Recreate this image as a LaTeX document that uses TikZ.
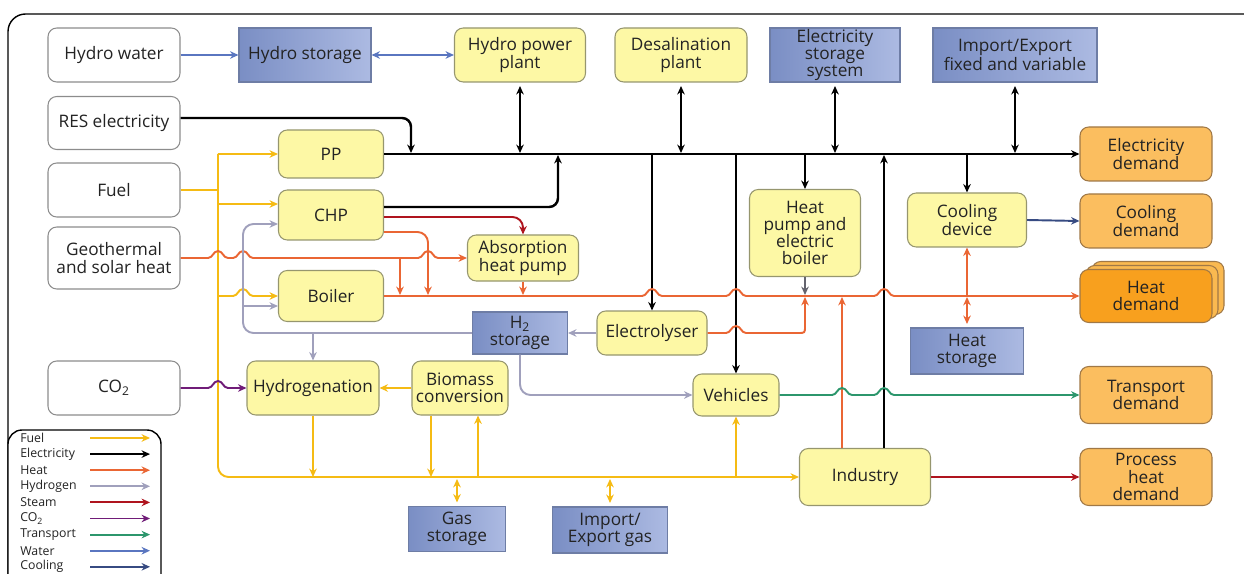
\documentclass[tikz,border=0pt]{standalone}
\usepackage{fontspec}
\setmainfont{Open Sans}
\usepackage{xcolor}
\usetikzlibrary{positioning,arrows.meta}

\definecolor{fuelc}{RGB}{245,187,20}
\definecolor{heatc}{RGB}{234,102,52}
\definecolor{hydroc}{RGB}{160,160,188}
\definecolor{steamc}{RGB}{175,20,30}
\definecolor{co2c}{RGB}{112,28,120}
\definecolor{transc}{RGB}{44,150,108}
\definecolor{waterc}{RGB}{90,118,192}
\definecolor{coolc}{RGB}{55,75,130}
\definecolor{hpgray}{RGB}{100,100,110}
\definecolor{txt}{RGB}{35,35,35}
\definecolor{srcline}{RGB}{140,140,140}
\definecolor{procfill}{RGB}{253,248,165}
\definecolor{procline}{RGB}{150,150,110}
\definecolor{storeA}{RGB}{122,142,196}
\definecolor{storeB}{RGB}{172,186,226}
\definecolor{storeline}{RGB}{110,125,165}
\definecolor{demfill}{RGB}{251,190,95}
\definecolor{demline}{RGB}{160,120,70}
\definecolor{heatfill}{RGB}{248,160,30}
\definecolor{heatback}{RGB}{250,185,80}

\tikzset{
  box/.style 2 args={minimum width=#1*0.02cm, minimum height=#2*0.02cm,
    inner sep=0pt, align=center, text=txt, font=\fontsize{9.8}{9.8}\selectfont},
  src/.style={draw=srcline, fill=white, rounded corners=5pt, line width=0.6pt},
  proc/.style={draw=procline, fill=procfill, rounded corners=5pt, line width=0.6pt},
  store/.style={draw=storeline, left color=storeA, right color=storeB, line width=0.6pt},
  dem/.style={draw=demline, fill=demfill, rounded corners=5pt, line width=0.6pt},
  flow/.style={line width=1.1pt, -{Stealth[length=4.8pt,width=4.3pt]}},
  both/.style={{Stealth[length=4.8pt,width=4.3pt]}-{Stealth[length=4.8pt,width=4.3pt]}},
  fuel/.style={flow, draw=fuelc},
  elec/.style={flow, draw=black, line width=1.4pt},
  heat/.style={flow, draw=heatc},
  hydro/.style={flow, draw=hydroc},
  steam/.style={flow, draw=steamc},
  co2/.style={flow, draw=co2c},
  trans/.style={flow, draw=transc},
  water/.style={flow, draw=waterc},
  cooling/.style={flow, draw=coolc},
  hop/.style={insert path={to[out=0,in=180] ++(10,-7) to[out=0,in=180] ++(10,7)}},
}

\begin{document}
\begin{tikzpicture}[x=0.02cm, y=-0.02cm]
    \useasboundingbox (0,0) rectangle (1244,574);
    \clip (0,0) rectangle (1244,574);

    % Frame
    \draw[line width=0.8pt, rounded corners=10pt] (8,14) rectangle (1280,610);

    % Inputs
    \node[src, box={132}{54}] (hwin)  at (114,55)  {Hydro water};
    \node[src, box={132}{53}] (resin) at (114,123) {RES electricity};
    \node[src, box={132}{54}] (fuelin) at (114,190) {Fuel};
    \node[src, box={132}{62}] (geoin) at (114,258) {Geothermal\\and solar heat};
    \node[src, box={132}{54}] (co2in) at (114,388) {CO\textsubscript{2}};

    % Storages
    \node[store, box={132}{54}] (hs)     at (305,55)   {Hydro storage};
    \node[store, box={130}{54}] (ess)    at (835,55)   {Electricity\\storage\\system};
    \node[store, box={164}{54}] (impel)  at (1015,55)  {Import/Export\\fixed and variable};
    \node[store, box={95}{42}]  (h2)     at (520,333)  {H\textsubscript{2}\\storage};
    \node[store, box={113}{46}] (hstore) at (967,351)  {Heat\\storage};
    \node[store, box={97}{45}]  (gas)    at (457,529)  {Gas\\storage};
    \node[store, box={115}{46}] (impgas) at (610,530)  {Import/\\Export gas};

    % Conversion units
    \node[proc, box={131}{54}] (hpp)   at (520,55)  {Hydro power\\plant};
    \node[proc, box={132}{54}] (desal) at (681,55)  {Desalination\\plant};
    \node[proc, box={105}{48}] (pp)    at (331,154) {PP};
    \node[proc, box={105}{50}] (chp)   at (331,215) {CHP};
    \node[proc, box={105}{51}] (boil)  at (331,296) {Boiler};
    \node[proc, box={111}{46}] (abs)   at (523,258) {Absorption\\heat pump};
    \node[proc, box={132}{54}] (hydg)  at (313,388) {Hydrogenation};
    \node[proc, box={96}{54}]  (biom)  at (460,388) {Biomass\\conversion};
    \node[proc, box={110}{44}] (ely)   at (652,333) {Electrolyser};
    \node[proc, box={86}{42}]  (veh)   at (736,395) {Vehicles};
    \node[proc, box={111}{87}] (hpb)   at (805,233) {Heat\\pump and\\electric\\boiler};
    \node[proc, box={119}{54}] (cool)  at (967,220) {Cooling\\device};
    \node[proc, box={131}{57}] (ind)   at (865,477) {Industry};

    % Demands
    \node[dem, box={132}{54}] (eldem) at (1146,154) {Electricity\\demand};
    \node[dem, box={132}{54}] (cldem) at (1146,221) {Cooling\\demand};
    \node[dem, box={132}{53}, fill=heatback] (htdemc) at (1158,288) {};
    \node[dem, box={132}{53}, fill=heatback] (htdemb) at (1152,292) {};
    \node[dem, box={132}{53}, fill=heatfill] (htdem) at (1146,296) {Heat\\demand};
    \node[dem, box={132}{57}] (trdem) at (1146,395) {Transport\\demand};
    \node[dem, box={132}{57}] (phdem) at (1146,477) {Process\\heat\\demand};

    % Electricity
    \draw[elec] (pp.east) -- (eldem.west);
    \draw[elec, rounded corners=5pt] (resin.east |- 0,118) -- (411,118) -- (411,153);
    \draw[elec, both, shorten <=2pt] (hpp.south) -- (hpp.south |- 0,153);
    \draw[elec, both, shorten <=2pt] (desal.south) -- (desal.south |- 0,153);
    \draw[elec, both, shorten <=2pt] (ess.south) -- (ess.south |- 0,153);
    \draw[elec, both, shorten <=2pt] (impel.south) -- (impel.south |- 0,153);
    \draw[elec, rounded corners=5pt] (chp.east |- 0,207) -- (558,207) -- (558,155);
    \draw[elec] (652,154) -- (ely.north);
    \draw[elec] (736,154) -- (veh.north);
    \draw[elec] (805,154) -- (hpb.north);
    \draw[elec] (967,154) -- (cool.north);
    \draw[elec] (ind.north -| 884,0) -- (884,155);

    % Fuel
    \draw[fuel, -] (fuelin.east) -- (218,190);
    \draw[fuel, rounded corners=6pt] (218,154) -- (218,477) -- (ind.west);
    \draw[fuel] (218,154) -- (pp.west);
    \draw[fuel] (218,204) -- (chp.west |- 0,204);
    \draw[fuel] (218,296) -- (233,296) [hop] -- (boil.west);
    \draw[fuel] (biom.west) -- (hydg.east);
    \draw[fuel] (hydg.south) -- (hydg.south |- 0,477);
    \draw[fuel] (biom.south -| 431,0) -- (431,477);
    \draw[fuel] (478,477) -- (biom.south -| 478,0);
    \draw[fuel] (736,477) -- (veh.south);
    \draw[fuel, both, shorten <=2pt] (gas.north) -- (gas.north |- 0,479);
    \draw[fuel, both, shorten <=2pt] (impgas.north) -- (impgas.north |- 0,479);

    % Heat
    \draw[heat] (geoin.east) -- (208,258) [hop] -- (233,258) [hop] -- (418,258) [hop] -- (abs.west);
    \draw[heat] (400,258) -- (400,295);
    \draw[heat, rounded corners=6pt] (chp.east |- 0,232) -- (428,232) -- (428,295);
    \draw[heat] (boil.east) -- (642,296) [hop] -- (726,296) [hop] -- (874,296) [hop] -- (htdem.west);
    \draw[heat] (abs.south) -- (abs.south |- 0,295);
    \draw[flow, draw=hpgray] (hpb.south) -- (805,295);
    \draw[heat] (ely.east) -- (726,333) [hop] -- (798,333) .. controls (805,333) .. (805,326) -- (805,297);
    \draw[heat] (ind.north -| 842,0) -- (842,297);
    \draw[heat] (967,296) -- (cool.south);
    \draw[heat, both, shorten <=2pt] (hstore.north) -- (967,297);

    % Steam
    \draw[steam, rounded corners=6pt] (chp.east |- 0,217) -- (523,217) -- (abs.north);
    \draw[steam] (ind.east) -- (phdem.west);

    % Hydrogen
    \draw[hydro, rounded corners=6pt] (h2.west) -- (243,333) -- (243,224) -- (chp.west |- 0,224);
    \draw[hydro] (243,306) -- (boil.west |- 0,306);
    \draw[hydro] (313,333) -- (hydg.north);
    \draw[hydro] (ely.west) -- (h2.east);
    \draw[hydro, rounded corners=6pt] (h2.south) -- (520,395) -- (veh.west);

    % CO2, transport, water, cooling
    \draw[co2] (co2in.east) -- (208,388) [hop] -- (hydg.west);
    \draw[trans] (veh.east) -- (832,395) [hop] -- (874,395) [hop] -- (trdem.west);
    \draw[water] (hwin.east) -- (hs.west);
    \draw[water, both] (hs.east) -- (hpp.west);
    \draw[cooling] (cool.east) -- (cldem.west);

    % Legend
    \draw[line width=0.8pt, rounded corners=8pt, fill=white] (8,430) rectangle (161,620);
    \foreach \name/\col [count=\i] in {Fuel/fuelc, Electricity/black, Heat/heatc,
        Hydrogen/hydroc, Steam/steamc, {CO\textsubscript{2}}/co2c, Transport/transc,
        Water/waterc, Cooling/coolc} {
        \node[anchor=west, inner sep=0pt, text=txt, font=\fontsize{7}{8}\selectfont]
            (leg\i) at (20,438+16.1*\i-16.1) {\name};
        \coordinate (la\i) at (90,438+16.1*\i-16.1);
        \coordinate (lb\i) at (150,438+16.1*\i-16.1);
        \draw[flow, draw=\col] (la\i) -- (lb\i);
    }
\end{tikzpicture}
\end{document}
